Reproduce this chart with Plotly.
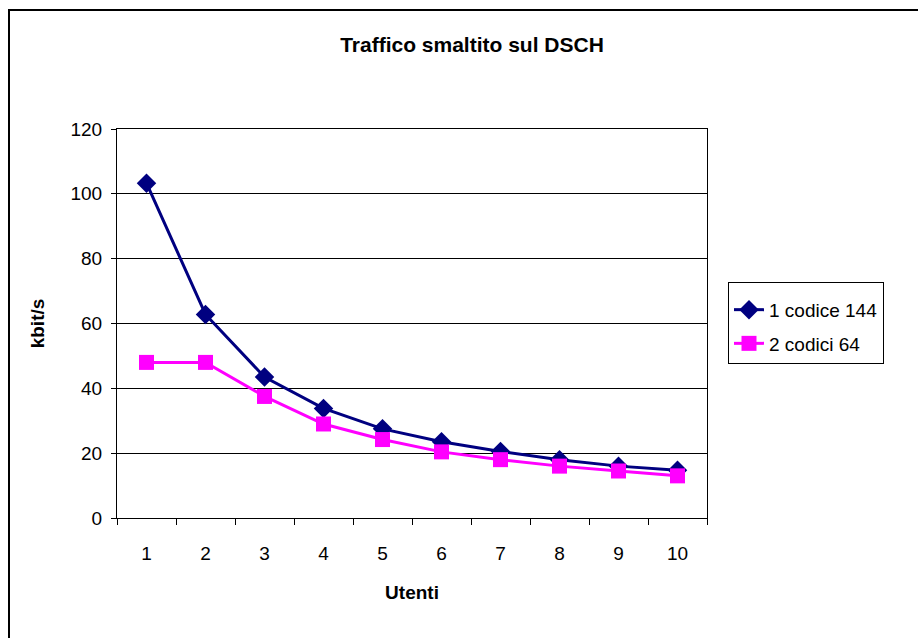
import plotly.graph_objects as go

utenti = ["1", "2", "3", "4", "5", "6", "7", "8", "9", "10"]
codice_144 = [103.3, 62.8, 43.5, 33.8, 27.5, 23.5, 20.5, 18.0, 16.0, 14.7]
codici_64 = [48.0, 48.0, 37.5, 29.0, 24.2, 20.4, 18.0, 16.0, 14.5, 13.0]
y_ticks = [0, 20, 40, 60, 80, 100, 120]

FONT = "Liberation Sans, Arial, sans-serif"

fig = go.Figure()
fig.add_trace(go.Scatter(
    x=utenti, y=codice_144, name="1 codice 144", mode="lines+markers",
    legendgroup="a",
    line=dict(color="#000080", width=3),
    marker=dict(symbol="diamond", size=15, color="#000080"),
))
fig.add_trace(go.Scatter(
    x=utenti, y=codici_64, name="2 codici 64", mode="lines+markers",
    legendgroup="b",
    line=dict(color="#FF00FF", width=3),
    marker=dict(symbol="square", size=15, color="#FF00FF"),
))

L, R, T, B = 117, 707, 129, 518
W, H = 918, 638
pw, ph = R - L, B - T

fig.update_layout(
    width=W, height=H,
    margin=dict(l=L, r=W - R, t=T, b=H - B, pad=0),
    paper_bgcolor="white", plot_bgcolor="white",
    font=dict(family=FONT, size=19, color="black"),
    title=dict(text="<b>Traffico smaltito sul DSCH</b>", x=472 / W, xanchor="center",
               y=1 - 45 / H, yanchor="middle", font=dict(size=21, family=FONT)),
    showlegend=True,
    legend=dict(x=(728 - L) / pw, xanchor="left", y=(B - 282) / ph, yanchor="top",
                bordercolor="black", borderwidth=1, bgcolor="white",
                font=dict(size=19, family=FONT), tracegroupgap=6,
                title=dict(text=" ", font=dict(size=6))),
    xaxis=dict(
        type="category", range=[-0.5, len(utenti) - 0.5], tickson="boundaries",
        ticks="outside", ticklen=6,
        tickcolor="black", tickwidth=1, showline=True, linecolor="black", linewidth=1,
        mirror=True, showgrid=False, zeroline=False,
        tickfont=dict(size=19, family=FONT), ticklabelstandoff=18,
        title=dict(text="<b>Utenti</b>", font=dict(size=19, family=FONT), standoff=22),
    ),
    yaxis=dict(
        range=[0, 120], tickvals=y_ticks, ticks="outside", ticklen=5,
        tickcolor="black", tickwidth=1, showline=True, linecolor="black", linewidth=1,
        mirror=True, showgrid=True, gridcolor="black", gridwidth=1, zeroline=False,
        tickfont=dict(size=19, family=FONT), ticklabelstandoff=5,
        title=dict(text="<b>kbit/s</b>", font=dict(size=19, family=FONT), standoff=20),
    ),
    shapes=[dict(type="rect", xref="paper", yref="paper",
                 x0=(9 - L) / pw, x1=(925 - L) / pw,
                 y0=(B - 645) / ph, y1=(B - 10) / ph,
                 line=dict(color="black", width=2), fillcolor="rgba(0,0,0,0)", layer="below")],
)

fig.write_html("out.html", config={"displayModeBar": False},
               post_script="document.body.style.margin='0';document.body.style.overflow='hidden';")
